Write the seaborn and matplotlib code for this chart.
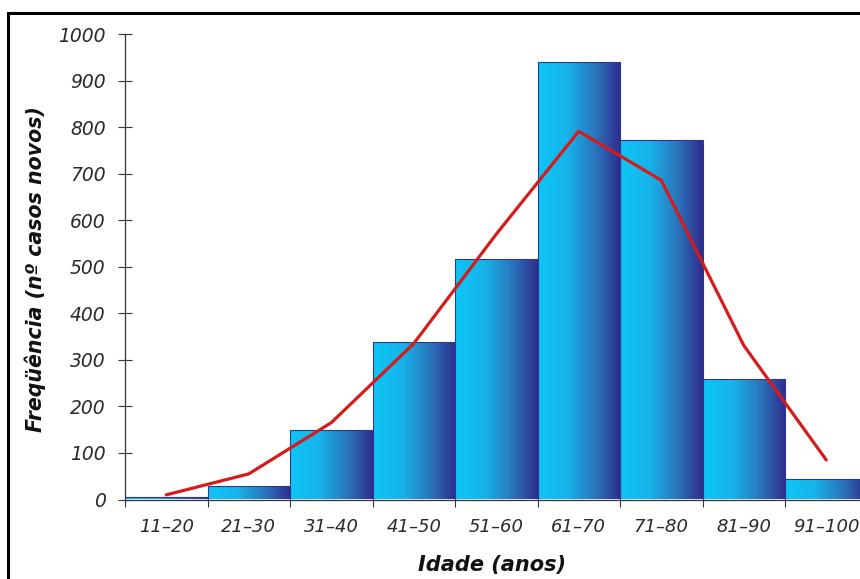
import numpy as np
import pandas as pd
import matplotlib
matplotlib.use("Agg")
import matplotlib.pyplot as plt
from matplotlib.colors import LinearSegmentedColormap
from matplotlib.patches import Rectangle
import seaborn as sns

# Age groups and number of new cases
faixas = ["11–20", "21–30", "31–40", "41–50", "51–60", "61–70", "71–80", "81–90", "91–100"]
casos = [5, 30, 150, 338, 516, 940, 772, 258, 43]
tendencia = [10, 55, 165, 335, 570, 791, 686, 331, 85]
yticks = [0, 100, 200, 300, 400, 500, 600, 700, 800, 900, 1000]

df = pd.DataFrame({"faixa": faixas, "casos": casos, "tendencia": tendencia})

sns.set_theme(style="white")
plt.rcParams["font.family"] = ["DejaVu Sans"]

W, H = 860, 579
fig = plt.figure(figsize=(W / 100, H / 100), dpi=100)
fig.patch.set_facecolor("white")

# axes: left edge at x=125 px, zero line at y=499.5 px, 1000 at y=34 px
x0, x1 = 125, 867.5
y_top, y_zero = 34, 499.5
ax = fig.add_axes([x0 / W, (H - y_zero) / H, (x1 - x0) / W, (y_zero - y_top) / H])
ax.set_facecolor("none")

sns.barplot(data=df, x="faixa", y="casos", ax=ax, width=1.0,
            color="#1ab8ee", edgecolor="#2b3a8f", linewidth=0.8,
            saturation=1, errorbar=None)

# horizontal cyan -> navy gradient inside every bar
grad = LinearSegmentedColormap.from_list(
    "barra", [(0.0, "#0dc6f6"), (0.35, "#17b4ea"), (0.7, "#2a74bb"), (1.0, "#2f2b8c")])
ramp = np.linspace(0, 1, 256).reshape(1, -1)
for p in ax.patches:
    bx, by = p.get_x(), p.get_y()
    bw, bh = p.get_width(), p.get_height()
    im = ax.imshow(ramp, cmap=grad, aspect="auto", interpolation="bilinear",
                   extent=(bx, bx + bw, by, by + bh), zorder=2)
    im.set_clip_path(p)
    p.set_facecolor("none")
    p.set_zorder(3)

sns.lineplot(data=df, x="faixa", y="tendencia", ax=ax, color="#d41c1c",
             linewidth=2.3, zorder=4, sort=False)

ax.set_xlim(-0.5, 8.5)
ax.set_ylim(0, 1000)
ax.set_yticks(yticks)
ax.set_yticklabels([str(v) for v in yticks], fontstyle="italic", fontsize=13.5, color="#2a2a2a")

# ticks at the class boundaries, labels at the class centres
n = len(faixas)
ax.set_xticks(np.arange(n) - 0.5)
ax.set_xticklabels([""] * n)
ax.set_xticks(np.arange(n), minor=True)
ax.set_xticklabels(faixas, minor=True, fontstyle="italic", fontsize=13, color="#2a2a2a")
ax.tick_params(axis="x", which="major", direction="out", length=5, width=0.8,
               color="#333333", bottom=True)
ax.tick_params(axis="x", which="minor", length=0, pad=13)
ax.tick_params(axis="y", direction="inout", length=10, width=0.8, color="#333333",
               left=True, pad=9)

for side in ["top", "right"]:
    ax.spines[side].set_visible(False)
for side in ["left", "bottom"]:
    ax.spines[side].set_color("#333333")
    ax.spines[side].set_linewidth(0.9)

ax.set_xlabel("")
ax.set_ylabel("")
fig.text(492 / W, 1 - 565 / H, "Idade (anos)", ha="center", va="center",
         fontsize=15, fontweight="bold", fontstyle="italic", color="#111111")
fig.text(35 / W, 1 - 269 / H, "Freqüência (nº casos novos)", ha="center", va="center",
         rotation=90, fontsize=14.8, fontweight="bold", fontstyle="italic", color="#111111")

# outer frame
fig.patches.append(Rectangle((8 / W, -0.1), 1.2, (H - 13) / H + 0.1,
                             transform=fig.transFigure, fill=False,
                             edgecolor="black", linewidth=2.2, zorder=10))

fig.savefig("out.png", dpi=100)
